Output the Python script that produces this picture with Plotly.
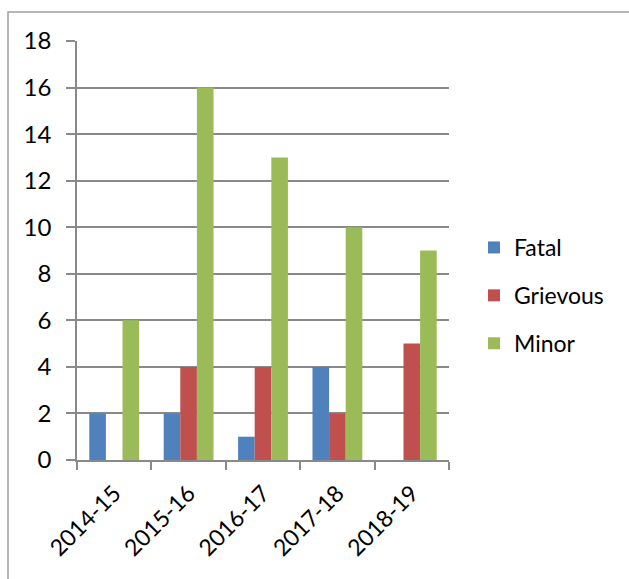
import plotly.graph_objects as go

categories = ["2014-15", "2015-16", "2016-17", "2017-18", "2018-19"]
fatal = [2, 2, 1, 4, 0]
grievous = [0, 4, 4, 2, 5]
minor = [6, 16, 13, 10, 9]
y_ticks = [0, 2, 4, 6, 8, 10, 12, 14, 16, 18]

series = [("Fatal", fatal, "#4F81BD"), ("Grievous", grievous, "#C0504D"), ("Minor", minor, "#9BBB59")]

FONT = "Lato, 'Open Sans', sans-serif"
fig = go.Figure()
for i, (name, vals, color) in enumerate(series):
    fig.add_trace(go.Bar(x=categories, y=vals, name=name, marker_color=color,
                         marker_line_width=0, legendgroup=str(i)))

L, R, T, B = 77, 180, 41, 119
W, H = 629, 579
pw, ph = W - L - R, H - T - B

fig.update_layout(
    width=W, height=H,
    margin=dict(l=L, r=R, t=T, b=B, pad=0, autoexpand=False),
    paper_bgcolor="white", plot_bgcolor="white",
    barmode="group", bargap=0.33, bargroupgap=0,
    font=dict(family=FONT, size=23, color="black"),
    showlegend=True,
    legend=dict(x=(474 - L) / pw, y=1 - (226 - T) / ph, xanchor="left", yanchor="top",
                font=dict(size=23, family=FONT), tracegroupgap=15,
                traceorder="grouped", itemwidth=30, bgcolor="rgba(0,0,0,0)"),
    xaxis=dict(showline=True, linecolor="#898989", linewidth=1.5, ticks="outside",
               tickson="boundaries", ticklen=8, tickcolor="#898989", tickwidth=1.5,
               tickangle=-45, showgrid=False, tickfont=dict(size=23), automargin=False,
               ticklabelstandoff=9),
    yaxis=dict(range=[0, 18], tickvals=y_ticks, showline=True, linecolor="#898989",
               linewidth=1.5, ticks="outside", ticklen=9, tickcolor="#898989", tickwidth=1.5,
               showgrid=True, gridcolor="#898989", gridwidth=1.5, zeroline=False,
               ticklabelstandoff=10, tickfont=dict(size=24), automargin=False),
)

fig.add_shape(type="rect", xref="paper", yref="paper",
              x0=(8 - L) / pw, x1=(W + 20 - L) / pw,
              y0=1 - (H + 20 - T) / ph, y1=1 + (T - 12) / ph,
              line=dict(color="#A0A0A0", width=1.5), fillcolor="rgba(0,0,0,0)", layer="below")

fig.write_html("out.html", config={"displayModeBar": False},
               post_script="document.body.style.margin='0';document.body.style.overflow='hidden';")
